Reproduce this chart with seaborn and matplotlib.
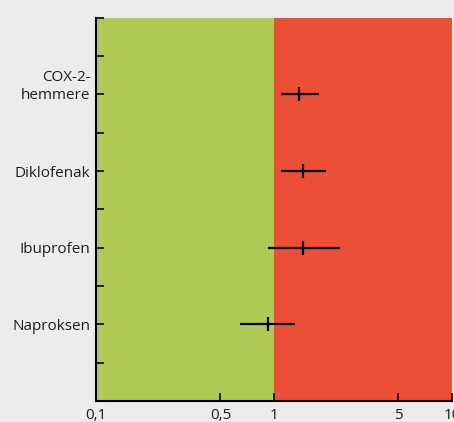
import numpy as np
import seaborn as sns
import matplotlib.pyplot as plt
import matplotlib.transforms as mtransforms

# relative risk with confidence interval
drugs = ["COX-2-\nhemmere", "Diklofenak", "Ibuprofen", "Naproksen"]
rr = [1.39, 1.46, 1.46, 0.92]
ci_low = [1.09, 1.10, 0.92, 0.64]
ci_high = [1.79, 1.95, 2.34, 1.31]

xticks = [0.1, 0.5, 1, 5, 10]
xticklabels = ["0,1", "0,5", "1", "5", "10"]

green = "#b0cb55"
red = "#eb4f36"

sns.set_theme(style="ticks")
plt.rcParams["font.family"] = ["Open Sans", "DejaVu Sans"]

fig = plt.figure(figsize=(4.54, 4.22), dpi=100, facecolor="#ececec")
ax = fig.add_axes([0.2115, 0.0498, 0.7841, 0.9082])

ypos = [2 * (i + 1) for i in range(len(drugs))]

ax.axvspan(0.1, 1, color=green, lw=0, zorder=0)
ax.axvspan(1, 10, color=red, lw=0, zorder=0)

ax.hlines(ypos, ci_low, ci_high, color="black", lw=1.6, zorder=3)
sns.scatterplot(x=rr, y=ypos, marker="|", s=100, color="black",
                linewidth=1.6, ax=ax, zorder=4, legend=False)

ax.set_xscale("log")
ax.set_xlim(0.1, 10)
ax.set_ylim(10, 0)
ax.set_xticks(xticks)
ax.set_xticklabels(xticklabels)
ax.xaxis.set_minor_locator(plt.NullLocator())
ax.set_yticks(range(0, 11))
ax.set_yticklabels(["" if i not in ypos else drugs[ypos.index(i)] for i in range(11)])

ax.tick_params(axis="both", direction="in", length=6, width=1.2, color="black",
               labelsize=11, labelcolor="#1e1e1e")
ax.tick_params(axis="x", pad=5)
ax.tick_params(axis="y", pad=4)

# keep the last line of the two-line label level with its tick
lab = ax.get_yticklabels()[2]
lab.set_linespacing(1.3)
lab.set_transform(lab.get_transform() +
                  mtransforms.ScaledTranslation(0, 8.5 / 72, fig.dpi_scale_trans))

for s in ["top", "right"]:
    ax.spines[s].set_visible(False)
for s in ["left", "bottom"]:
    ax.spines[s].set_linewidth(1.5)
    ax.spines[s].set_color("black")
ax.set_xlabel("")
ax.set_ylabel("")

fig.savefig("out.png", dpi=100, facecolor=fig.get_facecolor())
